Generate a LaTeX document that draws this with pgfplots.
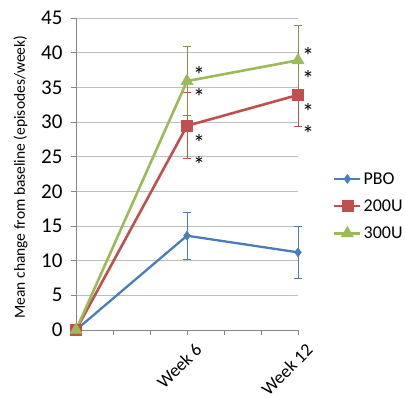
\documentclass[border=0pt]{standalone}
\usepackage{pgfplots}
\pgfplotsset{compat=1.18}
\usepackage{fontspec}
\setmainfont{Carlito}
\definecolor{pbo}{RGB}{74,126,187}
\definecolor{uA}{RGB}{192,80,77}
\definecolor{uB}{RGB}{155,187,89}
\definecolor{gridc}{RGB}{190,190,190}
\definecolor{axc}{RGB}{134,134,134}
\begin{document}
\begin{tikzpicture}
\useasboundingbox (-76pt,-68pt) rectangle (329pt,330pt);
\begin{axis}[
  at={(0pt,0pt)}, anchor=south west,
  scale only axis, width=222pt, height=312pt,
  xmin=0, xmax=12, ymin=0, ymax=45,
  axis lines*=left,
  axis line style={axc, line width=0.8pt},
  xtick={6,12},
  xticklabels={Week 6,Week 12},
  minor xtick={0,2,4,8,10},
  ytick={0,5,...,45},
  ymajorgrids,
  grid style={gridc, line width=0.8pt},
  tick style={axc, line width=0.8pt},
  tick align=outside,
  major tick length=5pt,
  minor tick length=5pt,
  /pgf/number format/assume math mode=true,
  yticklabel style={font=\fontsize{21}{21}\selectfont, xshift=-5pt},
  xticklabel style={font=\fontsize{18}{18}\selectfont, rotate=45, anchor=north east, inner sep=0pt, xshift=0pt, yshift=-10pt},
  ylabel={Mean change from baseline (episodes/week)},
  ylabel style={font=\fontsize{15.5}{15.5}\selectfont, at={(-0.25,0.49)}, anchor=center},
  every axis plot/.append style={line width=2.6pt},
  legend style={at={(1.157,0.397)}, anchor=west, draw=none, fill=none,
    font=\fontsize{18}{18}\selectfont, row sep=10pt, inner sep=0pt},
  legend cell align=left,
  legend image code/.code={\draw[mark repeat=2,mark phase=2] plot coordinates {(0pt,0pt)(13pt,0pt)(26pt,0pt)};},
  clip=false,
]
\addplot[color=pbo, line width=2.3pt, mark=diamond*, mark size=4.5pt, mark options={solid, line width=0.5pt},
  error bars/.cd, y dir=both, y explicit,
  error bar style={pbo, line width=0.8pt},
  error mark options={rotate=90, mark size=4pt, line width=0.8pt, pbo}]
  coordinates {(0,0) +- (0,0) (6,13.6) +- (0,3.4) (12,11.2) +- (0,3.73)};
\addlegendentry{PBO}
\addplot[color=uA, mark=square*, mark size=5.5pt, mark options={solid, line width=0.5pt},
  error bars/.cd, y dir=both, y explicit,
  error bar style={uA, line width=0.8pt},
  error mark options={rotate=90, mark size=4pt, line width=0.8pt, uA}]
  coordinates {(0,0) +- (0,0) (6,29.45) +- (0,4.75) (12,33.9) +- (0,4.6)};
\addlegendentry{200U}
\addplot[color=uB, mark=triangle*, mark size=7pt, mark options={solid, line width=0.5pt},
  error bars/.cd, y dir=both, y explicit,
  error bar style={uB!80!black, line width=0.8pt},
  error mark options={rotate=90, mark size=4pt, line width=0.8pt, uB!80!black}]
  coordinates {(0,0) +- (0,0) (6,35.9) +- (0,5.0) (12,38.9) +- (0,5.0)};
\addlegendentry{300U}
\tikzset{ast/.style={font=\fontsize{24}{24}\selectfont, inner sep=0pt, yshift=-4pt}}
\node[ast] at (axis cs:6.65,37.4) {*};
\node[ast] at (axis cs:6.65,34.2) {*};
\node[ast] at (axis cs:6.65,27.6) {*};
\node[ast] at (axis cs:6.65,24.4) {*};
\node[ast] at (axis cs:12.54,40.1) {*};
\node[ast] at (axis cs:12.54,36.8) {*};
\node[ast] at (axis cs:12.54,32.0) {*};
\node[ast] at (axis cs:12.54,28.9) {*};
\end{axis}
\end{tikzpicture}
\end{document}
